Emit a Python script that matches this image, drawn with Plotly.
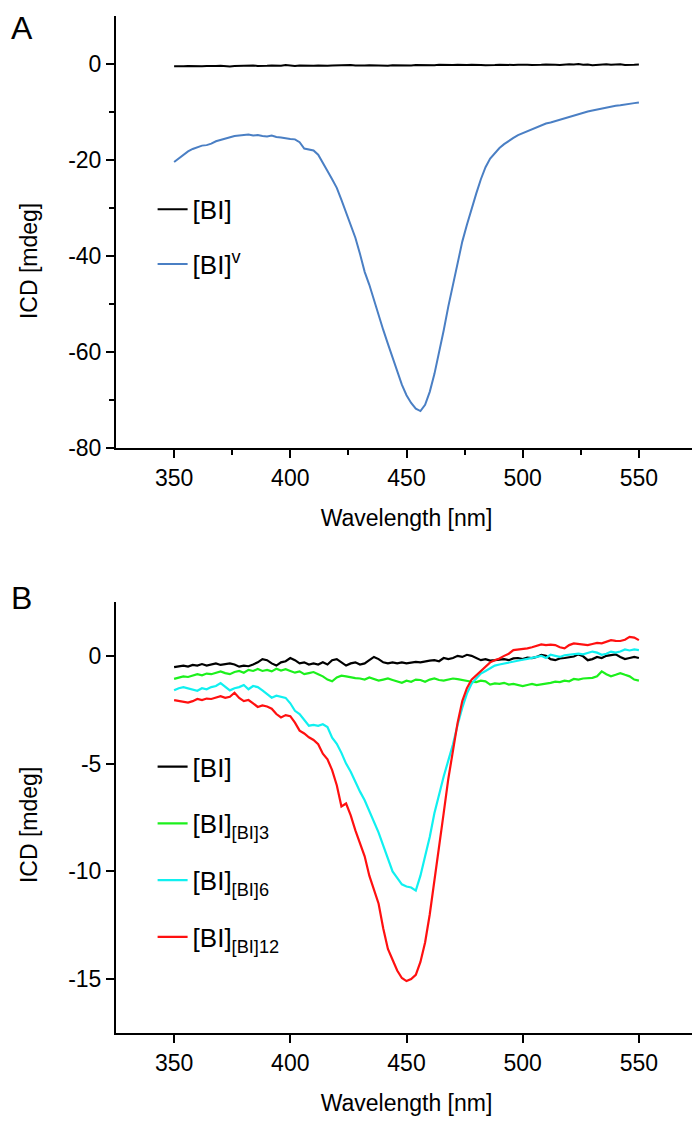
import plotly.graph_objects as go

# ---------------- data ----------------
wavelength = list(range(350, 551, 2))  # nm

# Panel A
a_bi = [
    -0.45, -0.5, -0.45, -0.4, -0.45, -0.5, -0.45, -0.4, -0.45, -0.4,
    -0.35, -0.45, -0.5, -0.4, -0.35, -0.45, -0.4, -0.3, -0.4, -0.45,
    -0.35, -0.3, -0.4, -0.35, -0.2, -0.35, -0.4, -0.3, -0.35, -0.25,
    -0.35, -0.3, -0.4, -0.35, -0.3, -0.25, -0.35, -0.3, -0.2, -0.3,
    -0.35, -0.3, -0.25, -0.3, -0.2, -0.3, -0.35, -0.25, -0.3, -0.2,
    -0.25, -0.3, -0.2, -0.25, -0.3, -0.2, -0.25, -0.15, -0.2, -0.25,
    -0.2, -0.15, -0.25, -0.2, -0.15, -0.1, -0.2, -0.25, -0.15, -0.2,
    -0.15, -0.2, -0.1, -0.2, -0.15, -0.1, -0.15, -0.2, -0.1, -0.15,
    -0.1, -0.05, -0.15, -0.2, -0.1, -0.05, -0.1, 0.0, -0.15, -0.1,
    -0.25, -0.15, -0.1, -0.05, -0.15, -0.1, -0.05, -0.2, -0.1, -0.15,
    -0.1,
]
a_biv = [
    -20.4, -19.6, -18.8, -18.2, -17.7, -17.3, -17.0, -16.9, -16.6, -16.1,
    -15.8, -15.5, -15.2, -15.0, -14.9, -14.8, -14.7, -14.9, -14.8, -15.0,
    -15.1, -14.9, -15.2, -15.3, -15.5, -15.6, -15.7, -16.3, -17.6, -17.8,
    -18.0, -18.9, -20.5, -22.3, -24.0, -25.8, -28.3, -31.0, -33.3, -36.2,
    -39.6, -43.3, -46.0, -49.3, -52.3, -55.4, -58.3, -61.2, -64.0, -66.8,
    -69.0, -70.6, -71.8, -72.3, -71.0, -68.3, -64.6, -60.3, -55.5, -50.5,
    -45.8, -41.2, -37.0, -33.5, -30.0, -27.0, -24.0, -21.5, -19.7, -18.5,
    -17.5, -16.7, -16.0, -15.4, -14.8, -14.4, -14.0, -13.5, -13.1, -12.8,
    -12.4, -12.2, -11.9, -11.6, -11.3, -11.0, -10.8, -10.5, -10.2, -9.9,
    -9.7, -9.5, -9.3, -9.0, -8.8, -8.7, -8.6, -8.4, -8.3, -8.15,
    -8.0,
]

# Panel B
b_bi = [
    -0.52, -0.5, -0.45, -0.5, -0.42, -0.45, -0.38, -0.45, -0.4, -0.35,
    -0.42, -0.38, -0.35, -0.4, -0.5, -0.45, -0.48, -0.4, -0.3, -0.15,
    -0.2, -0.35, -0.45, -0.3, -0.25, -0.1, -0.2, -0.35, -0.3, -0.4,
    -0.35, -0.4, -0.3, -0.4, -0.2, -0.15, -0.3, -0.45, -0.35, -0.3,
    -0.4, -0.35, -0.2, -0.05, -0.15, -0.3, -0.35, -0.3, -0.35, -0.3,
    -0.35, -0.3, -0.28, -0.3, -0.25, -0.22, -0.2, -0.25, -0.1, -0.15,
    -0.1, 0.0, -0.05, 0.05, 0.0, -0.1, -0.2, -0.15, -0.22, -0.2,
    -0.18, -0.15, -0.2, -0.12, -0.1, -0.15, -0.08, -0.1, -0.05, 0.05,
    0.0, -0.15, -0.2, -0.12, -0.1, -0.05, -0.03, 0.07, -0.02, -0.2,
    -0.15, -0.05, -0.1, 0.0, 0.05, 0.07, -0.05, -0.15, -0.1, -0.05,
    -0.1,
]
b_bi3 = [
    -1.07, -1.0, -0.95, -0.98, -0.9, -0.85, -0.9, -0.82, -0.85, -0.78,
    -0.72, -0.8, -0.85, -0.75, -0.7, -0.78, -0.65, -0.7, -0.61, -0.7,
    -0.65, -0.72, -0.6, -0.68, -0.62, -0.7, -0.78, -0.72, -0.85, -0.8,
    -0.75, -0.85, -0.95, -1.1, -1.18, -1.0, -0.92, -0.95, -1.0, -1.03,
    -1.05, -1.1, -1.0, -1.08, -1.15, -1.1, -1.05, -1.12, -1.2, -1.25,
    -1.15, -1.2, -1.1, -1.12, -1.2, -1.1, -1.05, -1.12, -1.15, -1.1,
    -1.05, -1.08, -1.12, -1.18, -1.2, -1.22, -1.15, -1.18, -1.33, -1.28,
    -1.3, -1.25, -1.33, -1.3, -1.35, -1.4, -1.35, -1.3, -1.36, -1.33,
    -1.3, -1.25, -1.2, -1.22, -1.15, -1.18, -1.07, -1.1, -1.05, -1.04,
    -1.02, -0.95, -0.72, -0.85, -0.95, -0.88, -0.8, -0.88, -0.95, -1.1,
    -1.15,
]
b_bi6 = [
    -1.6, -1.5, -1.45, -1.5, -1.55, -1.62, -1.5, -1.55, -1.45, -1.4,
    -1.26, -1.45, -1.6, -1.5, -1.45, -1.35, -1.55, -1.4, -1.45, -1.6,
    -1.75, -1.94, -1.85, -1.9, -1.95, -2.2, -2.55, -2.7, -2.95, -3.24,
    -3.2, -3.25, -3.17, -3.3, -3.8, -4.08, -4.5, -5.0, -5.38, -5.85,
    -6.3, -6.7, -7.2, -7.7, -8.2, -8.8, -9.4, -10.0, -10.3, -10.6,
    -10.7, -10.75, -10.89, -10.2, -9.3, -8.4, -7.3, -6.4, -5.6, -4.85,
    -4.1, -3.2, -2.4, -1.75, -1.3, -1.05, -0.82, -0.7, -0.58, -0.45,
    -0.4, -0.35, -0.3, -0.25, -0.22, -0.18, -0.14, -0.1, -0.05, 0.0,
    -0.1, 0.05, 0.0, -0.05, 0.03, 0.05, 0.07, 0.1, 0.07, 0.15,
    0.2, 0.15, 0.05, 0.1, 0.2, 0.15, 0.2, 0.3, 0.25, 0.3,
    0.27,
]
b_bi12 = [
    -2.05, -2.1, -2.15, -2.17, -2.1, -2.0, -2.05, -1.98, -2.0, -1.92,
    -1.87, -1.95, -1.9, -1.71, -1.95, -2.1, -2.05, -2.2, -2.37, -2.3,
    -2.35, -2.45, -2.7, -2.86, -2.75, -2.8, -3.1, -3.47, -3.6, -3.78,
    -3.9, -4.1, -4.54, -4.8, -5.3, -6.0, -6.99, -6.85, -7.4, -8.1,
    -8.7, -9.3, -10.2, -10.9, -11.5, -12.65, -13.6, -14.1, -14.6, -14.95,
    -15.09, -15.0, -14.8, -14.2, -13.3, -12.0, -10.5, -8.9, -7.3, -5.7,
    -4.4, -3.1, -2.1, -1.5, -1.1, -0.9, -0.72, -0.5, -0.3, -0.2,
    -0.12, 0.0, 0.1, 0.27, 0.3, 0.3, 0.35, 0.4, 0.48, 0.53,
    0.5, 0.52, 0.5, 0.4, 0.35, 0.5, 0.58, 0.55, 0.5, 0.5,
    0.55, 0.6, 0.58, 0.65, 0.73, 0.7, 0.69, 0.75, 0.88, 0.85,
    0.73,
]

x_ticks = [350, 400, 450, 500, 550]
x_tick_text = ["350", "400", "450", "500", "550"]
x_minor = [375, 425, 475, 525]
a_y_ticks = [0, -20, -40, -60, -80]
a_y_text = ["0", "-20", "-40", "-60", "-80"]
a_y_minor = [-10, -30, -50, -70]
b_y_ticks = [0, -5, -10, -15]
b_y_text = ["0", "-5", "-10", "-15"]

# ---------------- styling ----------------
FONT = "Liberation Sans, Arial, sans-serif"
TICKF = dict(family=FONT, size=23, color="black")
TITLEF = dict(family=FONT, size=23, color="black")
LEGF = dict(family=FONT, size=26, color="black")

fig = go.Figure()

def add(x, y, name, color, width, xa, ya, leg, grp):
    fig.add_trace(go.Scatter(
        x=x, y=y, name=name, mode="lines",
        line=dict(color=color, width=width),
        xaxis=xa, yaxis=ya, legend=leg, legendgroup=grp,
    ))

add(wavelength, a_bi, "[BI]", "black", 2, "x", "y", "legend", "a1")
add(wavelength, a_biv, "[BI]<sup>v</sup>", "#4a7fc4", 2, "x", "y", "legend", "a2")
add(wavelength, b_bi, "[BI]", "black", 2.2, "x2", "y2", "legend2", "b1")
add(wavelength, b_bi3, "[BI]<sub>[BI]3</sub>", "#1cf01c", 2.2, "x2", "y2", "legend2", "b2")
add(wavelength, b_bi6, "[BI]<sub>[BI]6</sub>", "#10f0f0", 2.2, "x2", "y2", "legend2", "b3")
add(wavelength, b_bi12, "[BI]<sub>[BI]12</sub>", "#ff1010", 2.2, "x2", "y2", "legend2", "b4")

def xax(anchor, minor):
    d = dict(
        anchor=anchor, domain=[0, 1], range=[325, 575],
        tickmode="array", tickvals=x_ticks, ticktext=x_tick_text,
        ticks="outside", ticklen=8, tickwidth=2, tickcolor="black",
        showline=True, linewidth=2, linecolor="black",
        showgrid=False, zeroline=False, tickfont=TICKF,
        title=dict(text="Wavelength [nm]", font=TITLEF, standoff=20),
    )
    if minor:
        d["minor"] = dict(tickmode="array", tickvals=x_minor, ticks="outside",
                          ticklen=5, tickwidth=2, tickcolor="black")
    return d

def yax(anchor, dom, rng, tv, tt, minor=None):
    d = dict(
        anchor=anchor, domain=dom, range=rng,
        tickmode="array", tickvals=tv, ticktext=tt,
        ticks="outside", ticklen=8, tickwidth=2, tickcolor="black",
        showline=True, linewidth=2, linecolor="black",
        showgrid=False, zeroline=False, tickfont=TICKF,
    )
    if minor:
        d["minor"] = dict(tickmode="array", tickvals=minor, ticks="outside",
                          ticklen=5, tickwidth=2, tickcolor="black")
    return d

fig.update_layout(
    width=700, height=1122,
    margin=dict(l=108, r=11, t=8, b=97),
    plot_bgcolor="white", paper_bgcolor="white",
    xaxis=xax("y", True),
    yaxis=yax("x", [0.5752, 1.0], [-80, 10], a_y_ticks, a_y_text, a_y_minor),
    xaxis2=xax("y2", False),
    yaxis2=yax("x2", [0.0, 0.4238], [-17.5, 2.5], b_y_ticks, b_y_text),
    legend=dict(x=0.063, y=0.833, xanchor="left", yanchor="top",
                font=LEGF, bgcolor="rgba(0,0,0,0)", tracegroupgap=18),
    legend2=dict(x=0.063, y=0.285, xanchor="left", yanchor="top",
                 font=LEGF, bgcolor="rgba(0,0,0,0)", tracegroupgap=20),
    annotations=[
        dict(text="A", x=-0.185, y=1.0079, xref="paper", yref="paper",
             xanchor="left", yanchor="top", showarrow=False,
             font=dict(family=FONT, size=32, color="black")),
        dict(text="B", x=-0.185, y=0.4277, xref="paper", yref="paper",
             xanchor="left", yanchor="middle", showarrow=False,
             font=dict(family=FONT, size=32, color="black")),
        dict(text="ICD [mdeg]", textangle=-90, x=-0.1497, y=0.759,
             xref="paper", yref="paper", xanchor="center", yanchor="middle",
             showarrow=False, font=TITLEF),
        dict(text="ICD [mdeg]", textangle=-90, x=-0.1497, y=0.2045,
             xref="paper", yref="paper", xanchor="center", yanchor="middle",
             showarrow=False, font=TITLEF),
    ],
)

fig.write_html("out.html")
